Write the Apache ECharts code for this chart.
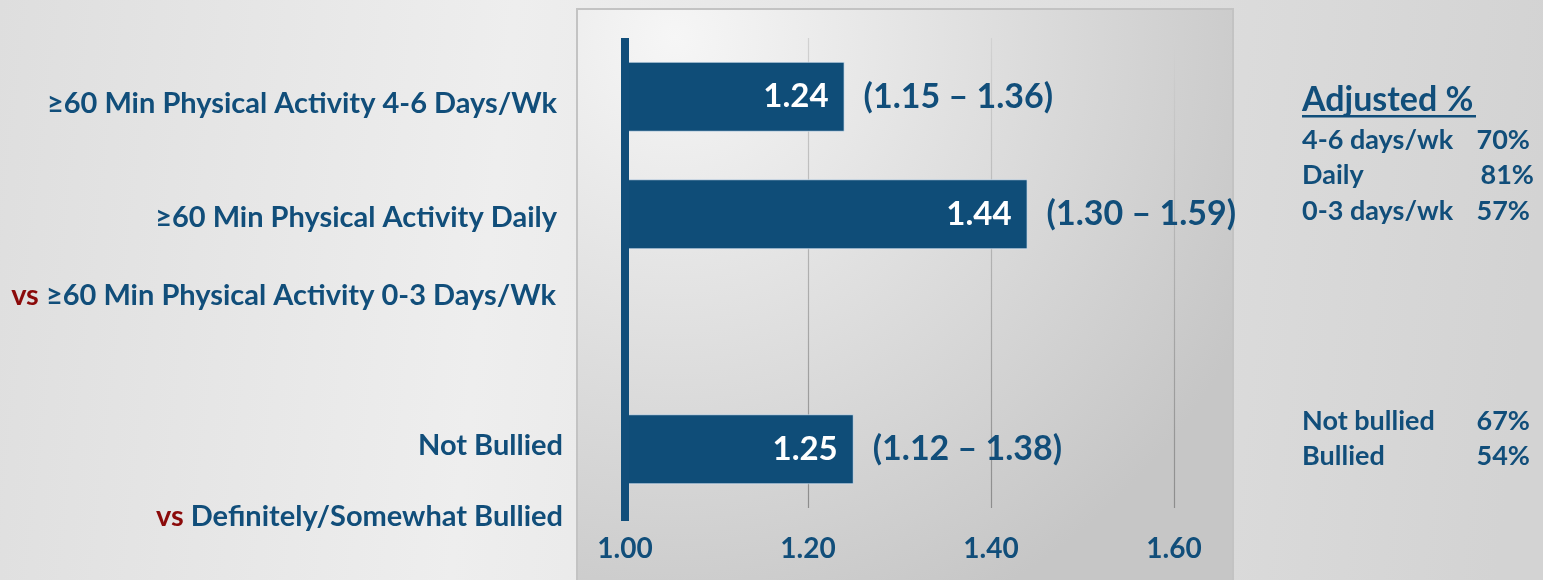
<!DOCTYPE html>
<html>
<head>
<meta charset="utf-8">
<script src="https://cdn.jsdelivr.net/npm/echarts@6/dist/echarts.min.js"></script>
<style>
  html, body { margin: 0; padding: 0; }
  #chart { width: 1543px; height: 580px; }
</style>
</head>
<body>
<div id="chart"></div>
<script>
// data
const categories = ['4-6 Days/Wk', 'Daily', '0-3 Days/Wk', 'Not Bullied'];
const oddsRatios = [1.24, 1.44, null, 1.25];
const ciLabels = ['(1.15 – 1.36)', '(1.30 – 1.59)', '', '(1.12 – 1.38)'];

// left side labels: [prefix, text, right x, y]
const leftLabels = [
  ['', '≥60 Min Physical Activity 4-6 Days/Wk', 557, 104],
  ['', '≥60 Min Physical Activity Daily', 557, 218],
  ['vs ', '≥60 Min Physical Activity 0-3 Days/Wk', 556, 296],
  ['', 'Not Bullied', 563, 446],
  ['vs ', 'Definitely/Somewhat Bullied', 563, 517]
];

// right side adjusted percentages
const adjustedNames = ['4-6 days/wk', 'Daily', '0-3 days/wk', 'Not bullied', 'Bullied'];
const adjustedValues = ['70%', '81%', '57%', '67%', '54%'];
const adjustedY = [140, 175, 211, 421, 456];

const BLUE = '#114e7a';
const RED = '#8b0a0a';
const FONT = 'Lato, "Open Sans", sans-serif';

const chart = echarts.init(document.getElementById('chart'));

const graphics = [
  {
    type: 'rect',
    z: -10,
    shape: { x: 577, y: 9, width: 656, height: 580 },
    style: {
      fill: {
        type: 'radial', x: 0.15, y: 0.05, r: 1.1,
        colorStops: [
          { offset: 0, color: '#f6f6f6' },
          { offset: 1, color: '#c6c6c6' }
        ]
      },
      stroke: '#c3c3c3',
      lineWidth: 2
    }
  },
  // underline for heading
  {
    type: 'rect',
    shape: { x: 1302, y: 115, width: 174, height: 2.5 },
    style: { fill: BLUE }
  },
  {
    type: 'text',
    style: {
      text: 'Adjusted %', x: 1302, y: 100,
      fill: BLUE, font: 'bold 34px ' + FONT,
      textAlign: 'left', textVerticalAlign: 'middle'
    }
  }
];

leftLabels.forEach(function (l) {
  graphics.push({
    type: 'text',
    style: {
      text: (l[0] ? '{r|' + l[0] + '}' : '') + '{b|' + l[1] + '}',
      x: l[2], y: l[3],
      textAlign: 'right', textVerticalAlign: 'middle',
      rich: {
        r: { fill: RED, font: 'bold 29px ' + FONT },
        b: { fill: BLUE, font: 'bold 29px ' + FONT }
      }
    }
  });
});

adjustedNames.forEach(function (n, i) {
  graphics.push({
    type: 'text',
    style: {
      text: n, x: 1302, y: adjustedY[i],
      fill: BLUE, font: 'bold 27px ' + FONT,
      textAlign: 'left', textVerticalAlign: 'middle'
    }
  });
  graphics.push({
    type: 'text',
    style: {
      text: adjustedValues[i], x: i === 1 ? 1534 : 1530, y: adjustedY[i],
      fill: BLUE, font: 'bold 27px ' + FONT,
      textAlign: 'right', textVerticalAlign: 'middle'
    }
  });
});

const option = {
  backgroundColor: {
    type: 'linear', x: 0, y: 0, x2: 1, y2: 0.3,
    colorStops: [
      { offset: 0, color: '#dedede' },
      { offset: 0.33, color: '#eeeeee' },
      { offset: 1, color: '#d3d3d3' }
    ]
  },
  animation: false,
  graphic: graphics,
  grid: { left: 625, right: 1543 - 1174, top: 38, height: 470 },
  xAxis: [
    {
      type: 'value',
      min: 1.0,
      max: 1.6,
      interval: 0.2,
      axisLine: { show: false },
      axisTick: { show: false },
      axisLabel: {
        formatter: function (v) { return v.toFixed(2); },
        color: BLUE,
        fontFamily: FONT,
        fontWeight: 'bold',
        fontSize: 28,
        margin: 27
      },
      splitLine: {
        show: true,
        lineStyle: {
          width: 1.2,
          color: {
            type: 'linear', x: 0, y: 0, x2: 0, y2: 1,
            colorStops: [
              { offset: 0, color: '#d2d2d2' },
              { offset: 1, color: '#8c8c8c' }
            ]
          }
        }
      }
    },
    {
      // extends the 1.00 reference line below the plot
      type: 'value',
      min: 1.0,
      max: 1.6,
      position: 'bottom',
      axisLine: { show: false },
      axisLabel: { show: false },
      splitLine: { show: false },
      axisTick: {
        show: true,
        customValues: [1.0],
        length: 13,
        lineStyle: { color: BLUE, width: 8 }
      }
    }
  ],
  yAxis: {
    type: 'category',
    data: categories,
    inverse: true,
    z: 5,
    axisLabel: { show: false },
    axisTick: { show: false },
    axisLine: { show: true, lineStyle: { color: BLUE, width: 8, cap: 'butt' } },
    splitLine: { show: false }
  },
  series: [
    {
      type: 'bar',
      data: oddsRatios,
      barWidth: 70,
      itemStyle: { color: '#0f4d78', borderColor: 'rgba(225,235,245,0.7)', borderWidth: 1 },
      label: {
        show: true,
        position: 'insideRight',
        distance: 16,
        formatter: function (p) { return p.value == null ? '' : p.value.toFixed(2); },
        color: '#ffffff',
        fontFamily: FONT,
        fontWeight: 'bold',
        fontSize: 33
      },
      z: 3
    },
    {
      type: 'bar',
      data: oddsRatios,
      barWidth: 70,
      barGap: '-100%',
      silent: true,
      itemStyle: { color: 'rgba(0,0,0,0)' },
      label: {
        show: true,
        position: 'right',
        distance: 19,
        formatter: function (p) { return ciLabels[p.dataIndex]; },
        color: BLUE,
        fontFamily: FONT,
        fontWeight: 'bold',
        fontSize: 34
      },
      z: 4
    }
  ]
};

chart.setOption(option);
</script>
</body>
</html>
